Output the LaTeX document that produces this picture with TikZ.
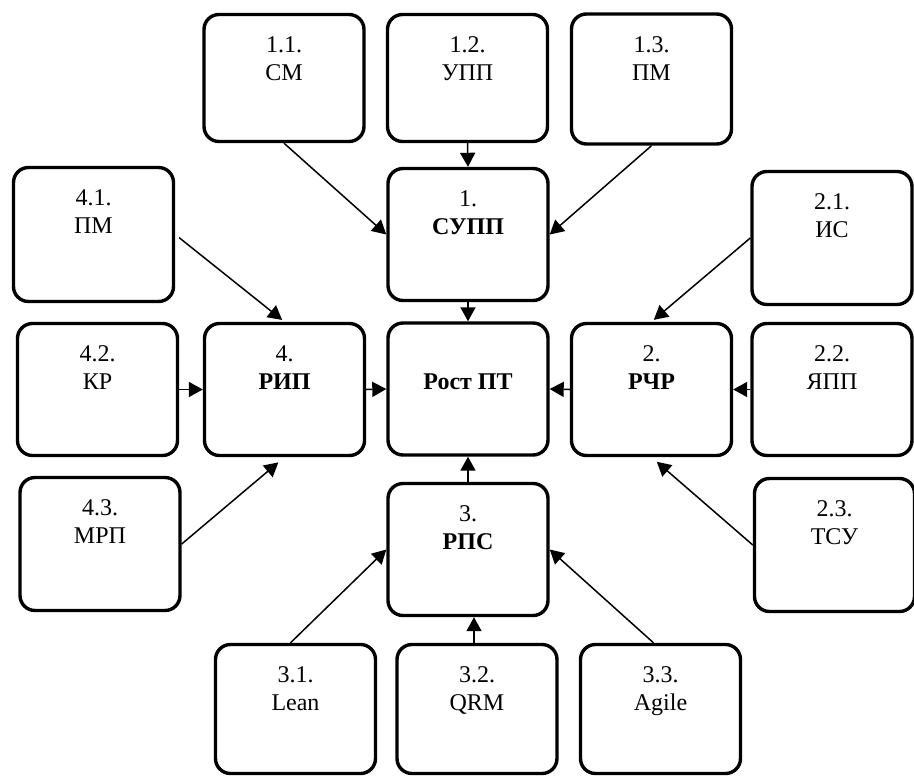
\documentclass[tikz,border=0pt]{standalone}
\usepackage{fontspec}
\setmainfont{Liberation Serif}
\usetikzlibrary{arrows.meta}
% box: name, x, y, path height, first line, second line
\newcommand\placebox[6]{%
  \node[box, minimum height=#4pt] (#1) at (#2,#3) {};
  \node[lbl] (#1a) at ([yshift=-40pt]#1.north) {#5};
  \node[lbl] (#1b) at ([yshift=-68pt]#1.north) {#6};
}
\begin{document}
\begin{tikzpicture}[x=1pt,y=-1pt,
  box/.style={draw, line width=3.4pt, rounded corners=15pt,
    minimum width=160pt, inner sep=0pt, fill=white},
  lbl/.style={anchor=base, inner sep=0pt, font=\fontsize{24}{28}\selectfont},
  arr/.style={-{Triangle[length=14pt,width=15pt]}, line width=1.5pt}]
\useasboundingbox (0,0) rectangle (914,777);

% centre column
\placebox{n12}{467.5}{78}{127}{1.2.}{УПП}
\node[box, minimum height=132pt] (n1) at (468,234.5) {};
\node[lbl] (n1a) at ([yshift=-40pt]n1.north) {1.};
\node[lbl] (n1b) at ([yshift=-68pt]n1.north) {\bfseries СУПП};
\node[box, minimum height=132pt] (c) at (468,389) {};
\node[lbl] (ct) at ([yshift=-68pt]c.north) {\bfseries Рост ПТ};
\node[box, minimum height=132pt] (n3) at (468,549.5) {};
\node[lbl] (n3a) at ([yshift=-40pt]n3.north) {3.};
\node[lbl] (n3b) at ([yshift=-68pt]n3.north) {\bfseries РПС};

% left and right of the centre
\node[box, minimum height=132pt] (n4) at (284.5,389.5) {};
\node[lbl] (n4a) at ([yshift=-40pt]n4.north) {4.};
\node[lbl] (n4b) at ([yshift=-68pt]n4.north) {\bfseries РИП};
\node[box, minimum height=132pt] (n2) at (651.5,389.5) {};
\node[lbl] (n2a) at ([yshift=-40pt]n2.north) {2.};
\node[lbl] (n2b) at ([yshift=-68pt]n2.north) {\bfseries РЧР};

% outer boxes
\placebox{n11}{284}{78}{127}{1.1.}{СМ}
\placebox{n13}{651.5}{79}{130}{1.3.}{ПМ}
\placebox{n41}{93.5}{234.5}{134}{4.1.}{ПМ}
\placebox{n42}{97.5}{389.5}{132}{4.2.}{КР}
\placebox{n43}{100}{544}{133}{4.3.}{МРП}
\placebox{n21}{832}{238}{133}{2.1.}{ИС}
\placebox{n22}{832}{389.5}{132}{2.2.}{ЯПП}
\placebox{n23}{834.5}{545}{133}{2.3.}{ТСУ}
\placebox{n31}{295.5}{709}{129}{3.1.}{Lean}
\placebox{n32}{477}{709}{129}{3.2.}{QRM}
\placebox{n33}{660.5}{709}{129}{3.3.}{Agile}

% connectors
\draw[arr] (n11.south) -- (n1.west);
\draw[arr] (n12.south) -- (n1.north);
\draw[arr] (n13.south) -- (n1.east);
\draw[arr] (n1.south) -- (c.north);

\draw[arr, shorten <=5pt, shorten >=3pt] (n41.east) -- (n4.north);
\draw[arr] (n42.east) -- (n4.west);
\draw[arr, shorten >=8pt] (n43.east) -- (n4.south);
\draw[arr] (n4.east) -- (c.west);

\draw[arr, shorten >=3pt] (n21.west) -- (n2.north);
\draw[arr] (n22.west) -- (n2.east);
\draw[arr, shorten >=7pt] (n23.west) -- (n2.south);
\draw[arr] (n2.west) -- (c.east);

\draw[arr] ([xshift=-5pt]n31.north) -- (n3.west);
\draw[arr] ([xshift=-3pt]n32.north) -- ([xshift=-3pt]n32.north |- n3.south);
\draw[arr] ([xshift=-7pt]n33.north) -- (n3.east);
\draw[arr] (n3.north) -- (c.south);
\end{tikzpicture}
\end{document}
